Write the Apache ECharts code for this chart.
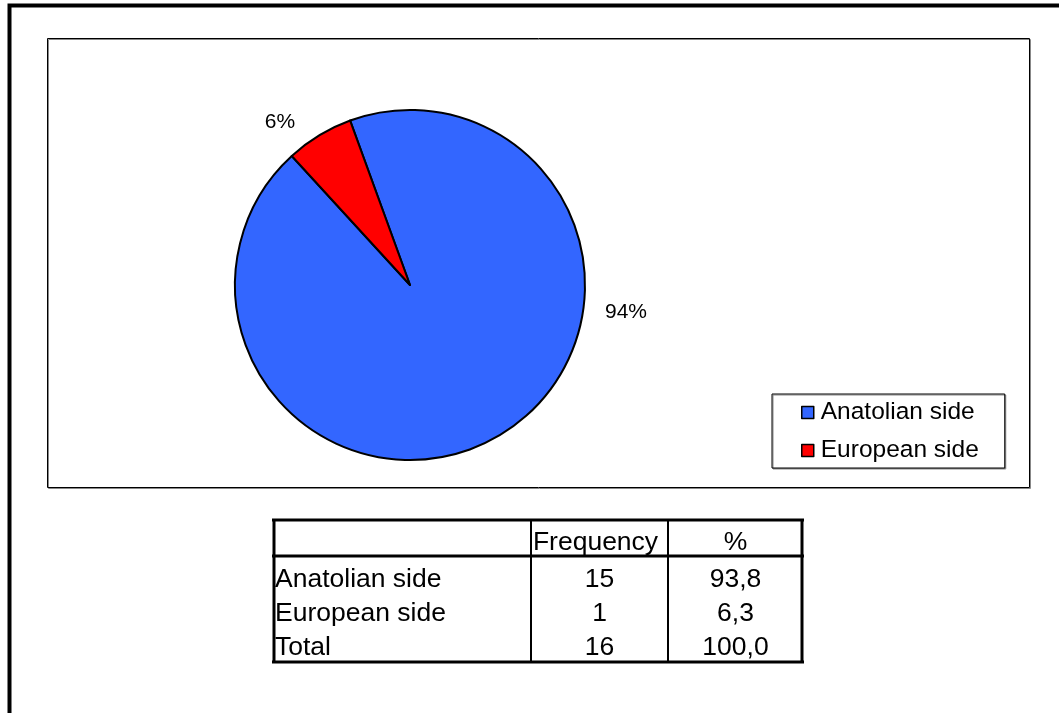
<!DOCTYPE html>
<html><head><meta charset="utf-8">
<script src="https://cdn.jsdelivr.net/npm/echarts@6/dist/echarts.min.js"></script>
<style>html,body{margin:0;padding:0;background:#fff}#c{width:1059px;height:713px}</style>
</head><body><div id="c"></div>
<script>
// ---- data ----
const categories = ['Anatolian side', 'European side'];
const frequencies = [15, 1];
const sliceColors = ['#3366FF', '#FF0000'];
const tableHeader = ['', 'Frequency', '%'];
const tableRowLabels = ['Anatolian side', 'European side', 'Total'];
const tableFrequency = ['15', '1', '16'];
const tablePercent = ['93,8', '6,3', '100,0'];

// ---- layout ----
const FONT = '"Liberation Sans", Arial, sans-serif';
const colX = [273, 531, 668, 803];
const tableTop = 519, headerBottom = 555, tableBottom = 662;
const headerY = 543;
const rowY = [580, 614, 648];
const tableFont = 26.5;

const chart = echarts.init(document.getElementById('c'), null, {renderer: 'canvas'});

const tableGraphics = [];
function hline(y, x1, x2, w) {
  tableGraphics.push({type: 'line', shape: {x1: x1, y1: y, x2: x2, y2: y}, style: {stroke: '#000', lineWidth: w}, z: 10});
}
function vline(x, y1, y2, w) {
  tableGraphics.push({type: 'line', shape: {x1: x, y1: y1, x2: x, y2: y2}, style: {stroke: '#000', lineWidth: w}, z: 10});
}
hline(tableTop + 1, colX[0] - 1, colX[3] + 1, 3);
hline(headerBottom + 1, colX[0] - 1, colX[3] + 1, 3);
hline(tableBottom, colX[0] - 1, colX[3] + 1, 3);
vline(colX[0] + 1, tableTop, tableBottom + 1, 3);
vline(colX[3] - 1, tableTop, tableBottom + 1, 3);
vline(colX[1], tableTop, tableBottom, 2);
vline(colX[2], tableTop, tableBottom, 2);

function txt(s, x, y, align) {
  tableGraphics.push({type: 'text', x: x, y: y, z: 11,
    style: {text: s, fill: '#000', font: tableFont + 'px ' + FONT, textAlign: align, textVerticalAlign: 'middle'}});
}
tableHeader.forEach((h, i) => {
  if (!h) return;
  txt(h, (colX[i] + colX[i + 1]) / 2 - (i === 1 ? 4 : 0), headerY, 'center');
});
tableRowLabels.forEach((r, i) => {
  txt(r, colX[0] + 2, rowY[i], 'left');
  txt(tableFrequency[i], (colX[1] + colX[2]) / 2, rowY[i], 'center');
  txt(tablePercent[i], (colX[2] + colX[3]) / 2, rowY[i], 'center');
});

const labelPos = [[626, 312], [280, 122]];

chart.setOption({
  animation: false,
  backgroundColor: '#fff',
  legend: {
    orient: 'vertical',
    left: 772, top: 394,
    backgroundColor: '#fff',
    borderColor: '#000', borderWidth: 1,
    shadowColor: '#888', shadowOffsetX: 1, shadowOffsetY: 1, shadowBlur: 0,
    padding: [6, 26, 5, 29],
    itemWidth: 12, itemHeight: 12, itemGap: 13,
    icon: 'rect',
    itemStyle: {borderColor: '#000', borderWidth: 1.5},
    textStyle: {fontSize: 24.5, color: '#000', fontFamily: FONT, padding: [0, 0, 0, 2]},
    data: categories
  },
  graphic: [
    {type: 'rect', shape: {x: 9.5, y: 5.5, width: 1100, height: 800},
      style: {fill: 'none', stroke: '#000', lineWidth: 4}, z: 0},
    {type: 'rect', shape: {x: 47.5, y: 38.5, width: 982, height: 449},
      style: {fill: 'none', stroke: '#000', lineWidth: 1, shadowColor: '#888', shadowOffsetX: 1, shadowOffsetY: 1}, z: 0}
  ].concat(tableGraphics),
  series: [{
    type: 'pie',
    center: [410, 285],
    radius: 175,
    startAngle: 110,
    clockwise: true,
    itemStyle: {borderColor: '#000', borderWidth: 2},
    label: {
      show: true, position: 'outside',
      fontSize: 21, color: '#000', fontFamily: FONT,
      formatter: p => Math.round(p.percent) + '%'
    },
    labelLine: {show: false},
    labelLayout: p => ({x: labelPos[p.dataIndex][0], y: labelPos[p.dataIndex][1], align: 'center', verticalAlign: 'middle'}),
    emphasis: {disabled: true},
    data: categories.map((c, i) => ({name: c, value: frequencies[i], itemStyle: {color: sliceColors[i]}}))
  }]
});
</script>
</body></html>
